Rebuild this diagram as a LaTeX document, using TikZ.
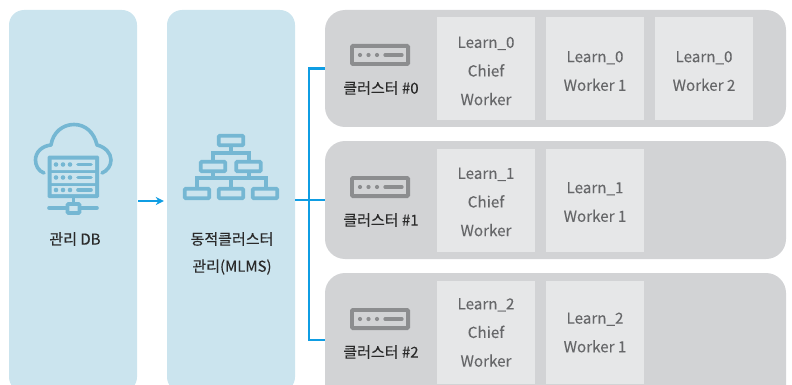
\documentclass[tikz,border=0pt]{standalone}
\usepackage{fontspec}
\setmainfont{Noto Sans CJK KR}
\newfontfamily\labelfont[FakeBold=0.2]{Noto Sans CJK KR}
\newfontfamily\cellfont[FakeBold=0.1]{Noto Sans CJK KR}
\usetikzlibrary{arrows.meta}
\definecolor{panelblue}{HTML}{CBE4EE}
\definecolor{panelgray}{HTML}{D2D3D5}
\definecolor{cellgray}{HTML}{E6E7E8}
\definecolor{iconblue}{HTML}{75B7D3}
\definecolor{icongray}{HTML}{8C8D8F}
\definecolor{linkblue}{HTML}{0F9DE3}
\definecolor{celltext}{HTML}{666769}
\definecolor{labeltext}{HTML}{2A2A2A}
\tikzset{
  sidepanel/.style={fill=panelblue,rounded corners=15pt,minimum width=128pt,minimum height=382pt,inner sep=0pt},
  clusterpanel/.style={fill=panelgray,rounded corners=20pt,minimum width=461pt,inner sep=0pt},
  cellbox/.style={fill=cellgray,minimum width=98pt,minimum height=103pt,inner sep=0pt},
  celltxt/.style={inner sep=0pt,align=center,text=celltext,font=\cellfont\fontsize{15.2}{28.6}\selectfont},
  panellabel/.style={text=labeltext,inner sep=0pt,font=\labelfont\fontsize{15}{15}\selectfont},
  link/.style={draw=linkblue,line width=2.4pt},
  iconline/.style={draw=iconblue,line width=3.6pt,line cap=round,line join=round},
  srv/.style={draw=icongray,line width=3.8pt,rounded corners=1pt},
  srvmark/.style={draw=icongray,line width=3.2pt,line cap=round},
  orgbox/.style={draw=iconblue,line width=3.6pt,rounded corners=1pt,minimum width=24.5pt,minimum height=9.5pt,inner sep=0pt}
}
\newcommand{\srvicon}[1]{%
  \draw[srv] (351.9,#1+1.9) rectangle (408.1,#1+20.1);
  \fill[icongray] (360,#1+11) circle (2.1pt) (368.5,#1+11) circle (2.1pt) (377,#1+11) circle (2.1pt);
  \draw[srvmark] (385,#1+11) -- (402,#1+11);
}
\begin{document}
\begin{tikzpicture}[x=1pt,y=-1pt]
\useasboundingbox (0,0) rectangle (792,385);
\clip (0,0) rectangle (792,385);
% panels
\node[sidepanel] (db) at (73,201) {};
\node[sidepanel] (mlms) at (231,201) {};
\node[clusterpanel,minimum height=117pt] (cluster0) at (555.5,68.5) {};
\node[clusterpanel,minimum height=118pt] (cluster1) at (555.5,200) {};
\node[clusterpanel,minimum height=134pt] (cluster2) at (555.5,340) {};
% cells
\node[cellbox] (c00) at (486,68.5) {};
\node[cellbox] (c01) at (595,68.5) {};
\node[cellbox] (c02) at (704,68.5) {};
\node[cellbox] (c10) at (486,200.5) {};
\node[cellbox] (c11) at (595,200.5) {};
\node[cellbox] (c20) at (486,332.5) {};
\node[cellbox] (c21) at (595,332.5) {};
% cell texts
\node[celltxt,yshift=-2.5pt] (t00) at (c00) {Learn\_0\\Chief\\Worker};
\node[celltxt,yshift=-2.5pt] (t01) at (c01) {Learn\_0\\Worker 1};
\node[celltxt,yshift=-2.5pt] (t02) at (c02) {Learn\_0\\Worker 2};
\node[celltxt,yshift=-1.5pt] (t10) at (c10) {Learn\_1\\Chief\\Worker};
\node[celltxt,yshift=-1.5pt] (t11) at (c11) {Learn\_1\\Worker 1};
\node[celltxt] (t20) at (c20) {Learn\_2\\Chief\\Worker};
\node[celltxt] (t21) at (c21) {Learn\_2\\Worker 1};
% labels
\node[panellabel] (dblabel) at (75,239) {관리 DB};
\node[panellabel] (mlmslabel1) at (232,239) {동적클러스터};
\node[panellabel] (mlmslabel2) at (232,267) {관리(MLMS)};
\node[panellabel] (l0) at (381,88) {클러스터 \#0};
\node[panellabel] (l1) at (381,220) {클러스터 \#1};
\node[panellabel] (l2) at (381,352) {클러스터 \#2};
% server icons
\srvicon{44}
\srvicon{176}
\srvicon{308}
% connectors
\coordinate (jn) at (309,200);
\draw[link,-{Stealth[length=8pt,width=8pt]},shorten >=3pt,shorten <=1pt] (db.east) -- (mlms.west);
\draw[link] (mlms.east |- cluster1.west) -- (cluster1.west);
\draw[link] (cluster0.west) -| (jn) |- (cluster2.west);
% DB icon
\draw[iconline] (44,173) .. controls (38,171) and (35.5,165) .. (35.5,160)
  .. controls (35.5,152) and (42,146) .. (51,145)
  .. controls (53,132) and (63,124.5) .. (74,124.5)
  .. controls (85,124.5) and (94,132) .. (97,145)
  .. controls (105,147) and (111,153) .. (111,160)
  .. controls (111,166) and (107,171) .. (102,173);
\fill[iconblue,rounded corners=1.5pt] (47.5,155.5) rectangle (99,198);
\fill[panelblue] (51.5,159.5) rectangle (95,170) (51.5,173) rectangle (95,183) (51.5,186) rectangle (95,194);
\foreach \yy in {164.5,177.5,190}{
  \fill[iconblue] (56,\yy) circle (2.3pt) (63,\yy) circle (2.3pt) (70,\yy) circle (2.3pt);
  \draw[iconblue,line width=3.6pt,line cap=round] (78,\yy) -- (91,\yy);
}
\draw[iconblue,line width=3pt] (73,198) -- (73,204);
\draw[iconline] (49,208) -- (97,208);
\draw[draw=iconblue,line width=3.6pt,fill=panelblue,rounded corners=1pt] (67.5,204) rectangle (79.5,213);
% org icon
\draw[iconblue,line width=3.4pt] (231,147) -- (231,153) (213,160) -- (213,153) -- (249,153) -- (249,160)
  (213,173) -- (213,178) (249,173) -- (249,178) (197,187) -- (197,178) -- (266,178) -- (266,187) (231,178) -- (231,187);
\node[orgbox] (o0) at (231,140.5) {};
\node[orgbox] (o1) at (213,166.5) {};
\node[orgbox] (o2) at (248.5,166.5) {};
\node[orgbox] (o3) at (197,193.5) {};
\node[orgbox] (o4) at (231,193.5) {};
\node[orgbox] (o5) at (265,193.5) {};
\end{tikzpicture}
\end{document}
